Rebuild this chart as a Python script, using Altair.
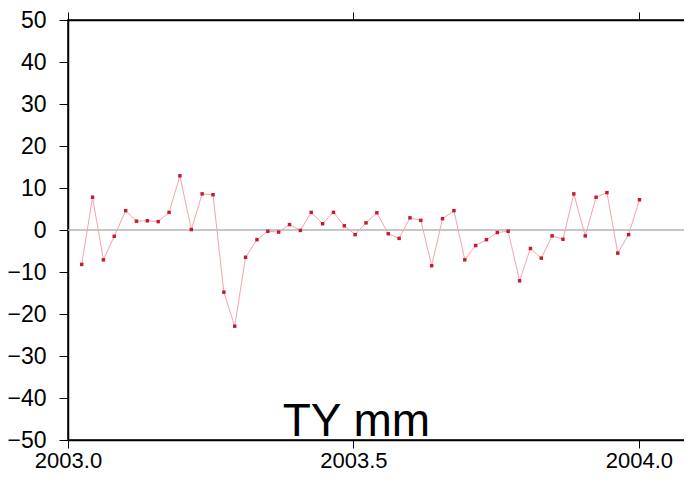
import altair as alt
import pandas as pd

# Decimal-year epochs (weekly solutions)
years = [
    2003.024, 2003.043, 2003.062, 2003.081, 2003.101, 2003.120, 2003.139, 2003.158,
    2003.177, 2003.196, 2003.216, 2003.235, 2003.254, 2003.273, 2003.292, 2003.311,
    2003.331, 2003.350, 2003.369, 2003.388, 2003.407, 2003.426, 2003.446, 2003.465,
    2003.484, 2003.503, 2003.522, 2003.541, 2003.561, 2003.580, 2003.599, 2003.618,
    2003.637, 2003.656, 2003.676, 2003.695, 2003.714, 2003.733, 2003.752, 2003.771,
    2003.791, 2003.810, 2003.829, 2003.848, 2003.867, 2003.886, 2003.906, 2003.925,
    2003.944, 2003.963, 2003.982, 2004.001,
]

# TY residuals in mm
ty_mm = [
    -8.2, 7.8, -7.1, -1.5, 4.6, 2.1, 2.2, 2.0,
    4.2, 12.9, 0.1, 8.6, 8.4, -14.8, -22.9, -6.5,
    -2.3, -0.3, -0.5, 1.3, -0.1, 4.2, 1.5, 4.2,
    1.0, -1.1, 1.7, 4.1, -0.9, -2.0, 2.9, 2.3,
    -8.5, 2.7, 4.6, -7.1, -3.7, -2.3, -0.6, -0.3,
    -12.1, -4.4, -6.7, -1.4, -2.2, 8.6, -1.4, 7.8,
    8.9, -5.5, -1.1, 7.2,
]

x_ticks = [2003.0, 2003.5, 2004.0]
y_ticks = [-50, -40, -30, -20, -10, 0, 10, 20, 30, 40, 50]
x_domain = [2003.0, 2004.093]
y_domain = [-50, 50]
label_text = "TY mm"

df = pd.DataFrame({"year": years, "ty": ty_mm})

FONT = "Liberation Sans"
xscale = alt.Scale(domain=x_domain, nice=False, zero=False)
yscale = alt.Scale(domain=y_domain, nice=False, zero=False)

axis_common = dict(
    grid=False, title=None, domainColor="black", domainWidth=1.5,
    tickColor="black", tickWidth=1, labelColor="black", labelFont=FONT,
)

x_bottom = alt.X(
    "year:Q", scale=xscale,
    axis=alt.Axis(orient="bottom", values=x_ticks, format=".1f", tickSize=8,
                  labelPadding=2, labelFontSize=22, labelFlush=False,
                  labelOverlap=False, **axis_common),
)
x_top = alt.X(
    "year:Q", scale=xscale,
    axis=alt.Axis(orient="top", values=x_ticks, labels=False, tickSize=8,
                  **axis_common),
)
y_left = alt.Y(
    "ty:Q", scale=yscale,
    axis=alt.Axis(orient="left", values=y_ticks, tickSize=9, labelPadding=13,
                  labelFontSize=23, labelFlush=False, labelOverlap=False,
                  **axis_common),
)

zero_line = alt.Chart(df).mark_rule(color="#b4b4b4", strokeWidth=1.5).encode(
    y=alt.Y("z:Q", scale=yscale, axis=None)
).transform_calculate(z="0").transform_filter("datum.year == 2003.024")

line = alt.Chart(df).mark_line(color="#f5a3aa", strokeWidth=1).encode(
    x=x_top, y=y_left
)

points = alt.Chart(df).mark_square(color="#c81a2c", size=12, opacity=1).encode(
    x=x_bottom, y=alt.Y("ty:Q", scale=yscale, axis=None)
)

label = alt.Chart(df).transform_filter("datum.year == 2003.024").mark_text(
    text=label_text, font=FONT, fontSize=46, color="black",
    align="center", baseline="alphabetic", dy=-4, dx=3,
).encode(
    x=alt.X("lx:Q", scale=xscale, axis=None),
    y=alt.Y("ly:Q", scale=yscale, axis=None),
).transform_calculate(lx="2003.5", ly="-50")

chart = alt.layer(zero_line, line, points, label).resolve_axis(
    x="independent", y="independent"
).properties(
    width=624, height=420,
    autosize=alt.AutoSizeParams(type="none"),
    padding={"left": 60, "top": 12, "right": -8, "bottom": 34},
    background="white",
).configure_view(stroke="black", strokeWidth=1.5)

chart.save("out.html", embed_options={"renderer": "svg", "actions": False})
